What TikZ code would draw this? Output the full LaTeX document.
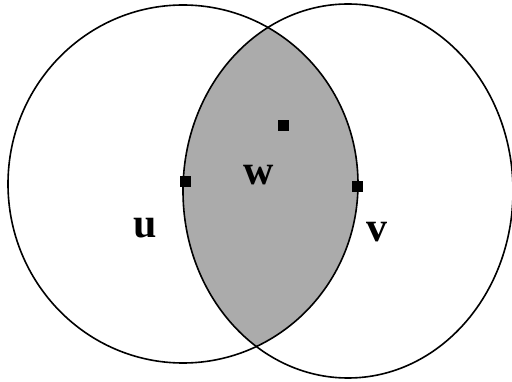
\documentclass[tikz,border=0pt]{standalone}
\usepackage{fontspec}
\setmainfont{Liberation Serif}
\begin{document}
\begin{tikzpicture}[x=1pt,y=-1pt,
  ring/.style={draw=black,line width=1.6pt},
  lens/.style={fill=black!33},
  dotsq/.style={rectangle,fill=black,draw=none,minimum size=11pt,inner sep=0pt},
  lbl/.style={font=\fontsize{42}{42}\selectfont\bfseries,inner sep=0pt,anchor=base}]
\useasboundingbox (0,0) rectangle (512,382);
\fill[white] (0,0) rectangle (512,382);
\clip (0,0) rectangle (512,382);
\begin{scope}
  \clip (183,184) ellipse [x radius=175, y radius=179];
  \fill[lens] (348,191) ellipse [x radius=165, y radius=187];
\end{scope}
\draw[ring] (183,184) ellipse [x radius=175, y radius=179];
\draw[ring] (348,191) ellipse [x radius=165, y radius=187];
\node[dotsq] (p1) at (185,182) {};
\node[dotsq] (p2) at (283.5,126) {};
\node[dotsq] (p3) at (357,186.5) {};
\node[lbl] (w) at (259,185) {w};
\node[lbl] (u) at (145,238) {u};
\node[lbl] (v) at (377,242) {v};
\end{tikzpicture}
\end{document}
